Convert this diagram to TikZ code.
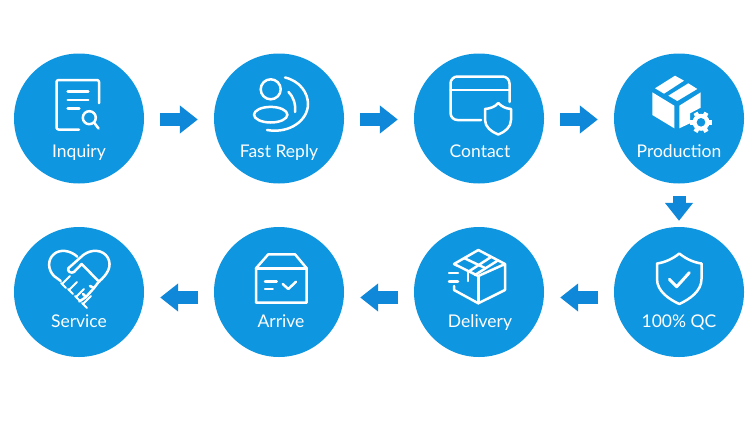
\documentclass[tikz,border=0pt]{standalone}
\usepackage{fontspec}
\setmainfont{Lato}
\usepackage{xcolor}
\usetikzlibrary{positioning}
\usetikzlibrary{arrows.meta}
\definecolor{stepblue}{RGB}{14,150,224}
\definecolor{flowblue}{RGB}{16,136,218}
\tikzstyle{stepdot} = [circle, minimum size=130pt, inner sep=0pt, fill=stepblue]
\tikzstyle{steptext} = [anchor=base, inner sep=0pt, text=white, font=\fontsize{17.5}{20}\selectfont]
\tikzstyle{flow} = [line width=13pt, draw=flowblue, -{Triangle[length=18pt,width=27pt,fill=flowblue]}, shorten <=16pt, shorten >=16pt]
\tikzstyle{icon} = [draw=white, line width=2.5pt, line cap=round, line join=round]
\begin{document}
\begin{tikzpicture}[x=1pt,y=-1pt]
\useasboundingbox (0,0) rectangle (751,423);
\node[stepdot] (inquiry) at (79,118.5) {};
\node[stepdot] (fastreply) at (279,118.5) {};
\node[stepdot] (contact) at (479,118.5) {};
\node[stepdot] (production) at (679,118.5) {};
\node[stepdot] (qc) at (679,292) {};
\node[stepdot] (delivery) at (479,292) {};
\node[stepdot] (arrive) at (279,292) {};
\node[stepdot] (service) at (79,292) {};
\node[steptext] (inquirytext) at (79,157) {Inquiry};
\node[steptext] (fastreplytext) at (279,157) {Fast Reply};
\node[steptext] (contacttext) at (480,157) {Contact};
\node[steptext] (productiontext) at (679,157) {Production};
\node[steptext] (qctext) at (679,327) {100\% QC};
\node[steptext] (deliverytext) at (480,327) {Delivery};
\node[steptext] (arrivetext) at (281,327) {Arrive};
\node[steptext] (servicetext) at (79,327) {Service};
\draw[flow] ([yshift=-1pt]inquiry.east) -- ([yshift=-1pt]fastreply.west);
\draw[flow] ([yshift=-1pt]fastreply.east) -- ([yshift=-1pt]contact.west);
\draw[flow] ([yshift=-1pt]contact.east) -- ([yshift=-1pt]production.west);
\draw[flow, shorten <=12.5pt, shorten >=6pt] (production.south) -- (qc.north);
\draw[flow] ([yshift=-5.5pt]qc.west) -- ([yshift=-5.5pt]delivery.east);
\draw[flow] ([yshift=-5.5pt]delivery.west) -- ([yshift=-5.5pt]arrive.east);
\draw[flow] ([yshift=-5.5pt]arrive.west) -- ([yshift=-5.5pt]service.east);
% inquiry sheet and magnifier
\draw[icon, rounded corners=2pt] (99,103) -- (99,80) -- (56.5,80) -- (56.5,129.5) -- (79,129.5);
\draw[icon] (67.7,91.7) -- (88.3,91.7);
\draw[icon] (67.7,100) -- (88.3,100);
\draw[icon] (67.7,108.7) -- (79.3,108.7);
\draw[icon] (89.3,117.7) circle (6.5);
\draw[icon] (94,122.5) -- (98.5,128.5);
% person with ripples
\draw[icon] (270.7,89.3) circle (10);
\draw[icon] (270.7,114.7) ellipse (16.7 and 7.8);
\draw[icon] (288.5,92) .. controls (293,96) and (296,104) .. (295,112);
\draw[icon] (285,77.5) .. controls (300,81) and (308,93) .. (308,104) .. controls (308,120) and (290,134) .. (267,130);
% card and shield
\draw[icon, rounded corners=7pt] (481,120) -- (450.5,120) -- (450.5,76.5) -- (509.5,76.5) -- (509.5,102);
\draw[icon] (450.5,90) -- (509.5,90);
\draw[icon] (498.3,103) .. controls (502,107) and (506,108.5) .. (511,109) -- (511,120) .. controls (511,127) and (505,132) .. (498.3,134.5) .. controls (491.5,132) and (485,127) .. (485,120) -- (485,109) .. controls (490,108.5) and (495,107) .. (498.3,103) -- cycle;
% solid parcel with gear
\fill[white] (655,88.3) -- (675,75.7) -- (684,80.7) -- (664,93.7) -- cycle;
\fill[white] (668.3,95.7) -- (688.3,83.3) -- (697.3,89) -- (677.3,101) -- cycle;
\fill[white] (652.3,92.3) -- (674.3,105.7) -- (674.3,128.3) -- (652.3,115) -- cycle;
\fill[white] (679.3,105.7) -- (700.7,92.3) -- (700.7,107.7) -- (690,113.3) -- (690,123.3) -- (679.3,128.3) -- cycle;
\fill[white] (701,122.3) circle (8.5);
\foreach \a in {0,60,...,300}
  \draw[white, line width=4.5pt] (701,122.3) ++(\a:6) -- ++(\a:5);
\fill[stepblue] (701,122.3) circle (4.3);
% shield with tick
\draw[icon] (679.3,253.5) .. controls (686,259) and (694,262.5) .. (701.5,263.5) -- (701.5,279) .. controls (701.5,291) and (690,299) .. (679.3,304) .. controls (668.5,299) and (657,291) .. (657,279) -- (657,263.5) .. controls (664.5,262.5) and (672.5,259) .. (679.3,253.5) -- cycle;
\draw[icon, line width=3pt] (669.3,279.3) -- (676.7,286.7) -- (689.3,272.7);
% open parcel with speed lines
\draw[icon] (454,286) -- (454,290) -- (478.3,303.3) -- (505,290) -- (505,264) -- (478.3,250) -- (454,264) -- (478.3,276) -- (505,264);
\draw[icon] (478.3,276) -- (478.3,303.3);
\draw[icon] (468,272) -- (468,281);
\draw[icon] (468,272) -- (491,257);
\draw[icon] (475,275) -- (497,261);
\draw[icon] (464,258) -- (485,268);
\draw[icon] (449,273) -- (458,273);
\draw[icon] (449,281.5) -- (458,281.5);
% carton with checklist
\draw[icon] (256,268.3) -- (268.3,254.3) -- (295,254.3) -- (306.7,268.3) -- (306.7,302.7) -- (256,302.7) -- cycle;
\draw[icon] (256,268.3) -- (306.7,268.3);
\draw[icon] (265,281.7) -- (276.7,281.7);
\draw[icon] (265,289) -- (272.7,289);
\draw[icon] (282.7,284) -- (288.3,289) -- (296,281.7);
% heart made of two hands
\draw[icon] (77.3,256.7) .. controls (70,250) and (60,249) .. (54,254) .. controls (47,260) and (48,270) .. (54,276) -- (60.7,281);
\draw[icon] (68.3,268.3) -- (83.3,255) .. controls (91,249) and (103,249) .. (108,258) .. controls (112,266) and (108,274) .. (98.5,282);
\draw[icon] (68.3,268.3) .. controls (67,271) and (71,274) .. (74,272) -- (81.7,264) -- (99.3,282);
\foreach \u/\v in {61/283,68/289,75/296,82/303}
  \draw[icon, line width=2pt] (\u,\v) ++(1,1) -- ++(8,-8);
\foreach \u/\v in {61/283,68/289,75/296,82/303}
  \draw[icon, line width=2pt] (\u,\v) -- ++(5,5);
\draw[icon] (98.5,282) -- (94,288) -- (90,286);
\draw[icon] (94,288) -- (86,297) -- (83,294);
\draw[icon] (86,297) -- (79.3,301.5);
\end{tikzpicture}
\end{document}
